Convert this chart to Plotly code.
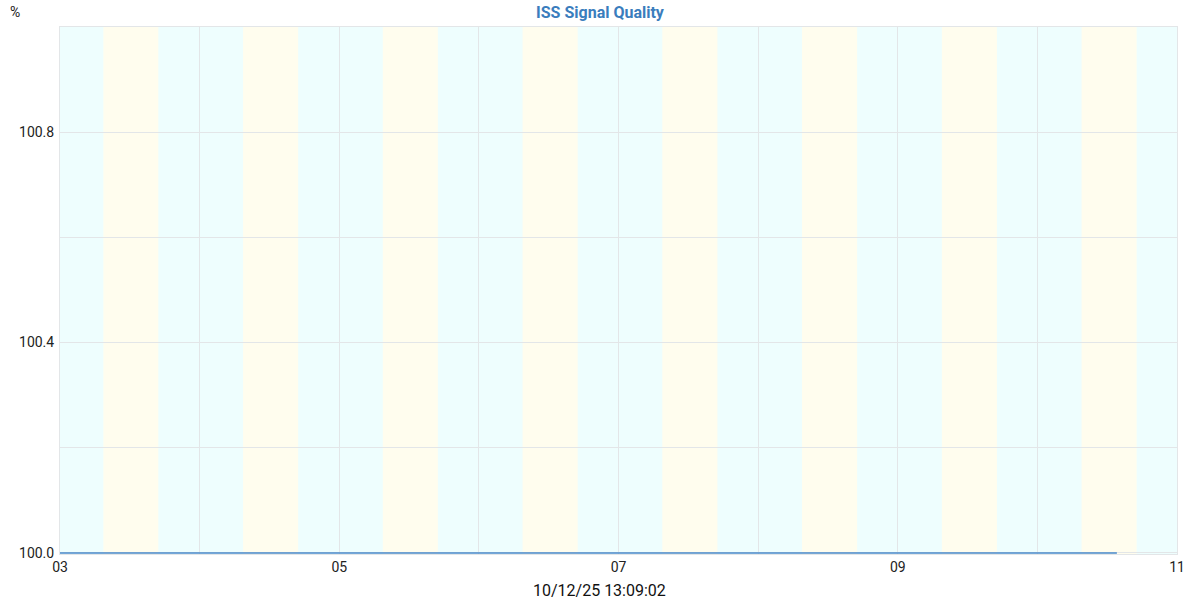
import plotly.graph_objects as go
import pandas as pd

# Data
times = ["2025-10-03 00:00", "2025-10-10 13:40"]
quality = [100.0, 100.0]

days = ["2025-10-03", "2025-10-04", "2025-10-05", "2025-10-06",
        "2025-10-07", "2025-10-08", "2025-10-09", "2025-10-10"]
sunrise = ["07:27", "07:28", "07:29", "07:31", "07:32", "07:33", "07:35", "07:36"]
sunset = ["16:54", "16:56", "16:57", "16:59", "17:00", "17:01", "17:03", "17:04"]

title_text = "ISS Signal Quality"
stamp_text = "10/12/25 13:09:02"

FONT = "Roboto, Arial, sans-serif"

fig = go.Figure()
fig.add_trace(go.Scatter(
    x=pd.to_datetime(times), y=quality, mode="lines",
    line=dict(color="#4a8acb", width=1.6), hoverinfo="skip", showlegend=False,
))

shapes = []
for d, sr, ss in zip(days, sunrise, sunset):
    shapes.append(dict(
        type="rect", xref="x", yref="paper",
        x0=f"{d} {sr}", x1=f"{d} {ss}", y0=0, y1=1,
        fillcolor="#fffdee", line=dict(width=0), layer="below",
    ))

fig.update_layout(
    width=1200, height=600,
    margin=dict(l=60, r=23, t=27, b=46),
    paper_bgcolor="white",
    plot_bgcolor="#eefefe",
    shapes=shapes,
    font=dict(family=FONT, size=14, color="#222222"),
    title=dict(text=f"<b>{title_text}</b>", x=0.5, xanchor="center",
               y=0.979, yanchor="middle",
               font=dict(family=FONT, size=16, color="#3a7dbd")),
    annotations=[
        dict(text="%", xref="paper", yref="paper", x=-0.04, y=1.0,
             xanchor="center", yanchor="middle", yshift=15, showarrow=False,
             font=dict(family=FONT, size=14, color="#222222")),
        dict(text=stamp_text, xref="paper", yref="paper", x=0.4834, y=0,
             xanchor="center", yanchor="middle", yshift=-36, showarrow=False,
             font=dict(family=FONT, size=16, color="#111111")),
    ],
    xaxis=dict(
        type="date",
        range=["2025-10-03 00:00", "2025-10-11 00:00"],
        tick0="2025-10-03", dtick=2 * 86400000, tickformat="%d",
        showgrid=True, gridcolor="#e3e6e8", gridwidth=1,
        minor=dict(dtick=86400000, showgrid=True, gridcolor="#e3e6e8"),
        showline=True, linecolor="#e3e6e8", mirror=True,
        zeroline=False, ticks="", ticklen=0,
        tickfont=dict(family=FONT, size=14, color="#222222"),
    ),
    yaxis=dict(
        range=[99.998, 101.0],
        tick0=100.0, dtick=0.4, tickformat=".1f",
        showgrid=True, gridcolor="#e3e6e8", gridwidth=1,
        minor=dict(tick0=100.0, dtick=0.2, showgrid=True, gridcolor="#e3e6e8"),
        showline=True, linecolor="#e3e6e8", mirror=True,
        zeroline=False, ticks="",
        ticklabelstandoff=2,
        tickfont=dict(family=FONT, size=14, color="#222222"),
    ),
)

fig.write_html("out.html",
               config={"displayModeBar": False},
               post_script="document.body.style.margin='0';document.body.style.overflow='hidden';")
